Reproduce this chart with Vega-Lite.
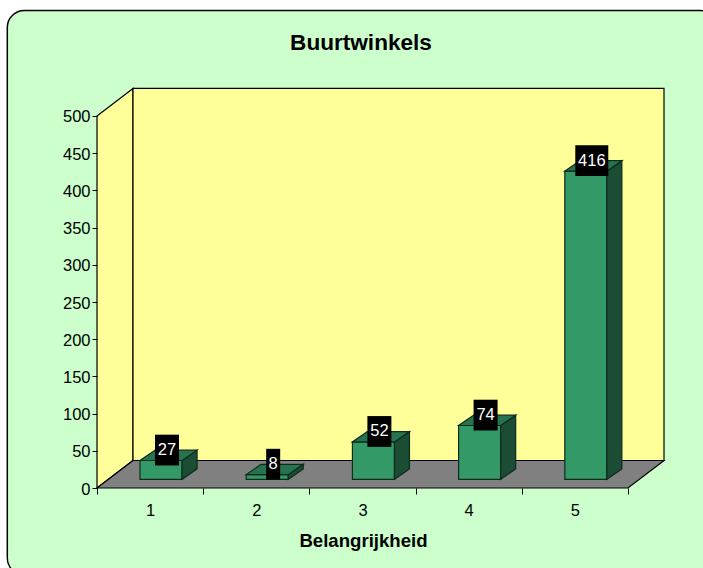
{
"$schema":"https://vega.github.io/schema/vega-lite/v6.json",
"width":703,"height":568,
"autosize":"none",
"padding":0,
"background":"#ffffff",
"view":{"stroke":null},
"title":{"text":"Buurtwinkels","font":"Liberation Sans","fontSize":22.6,"fontWeight":"bold","color":"#000000","anchor":"middle","frame":"group","dx":9.5,"offset":-73,"baseline":"alphabetic"},
"datasets":{
"bars":[{"category":1,"value":27},{"category":2,"value":8},{"category":3,"value":52},{"category":4,"value":74},{"category":5,"value":416}],
"edge":[{"t":0},{"t":1}]
},
"layer":[
{"data":{"values":[{"xa":-0.3446,"xb":6.338,"ya":-116.9,"yb":641.8}]},
"mark":{"type":"rect","fill":"#CCFFCC","stroke":"#000000","strokeWidth":1.5,"cornerRadius":17},
"encoding":{
"x":{"field":"xa","type":"quantitative","title":"Belangrijkheid","scale":{"domain":[-0.4134,6.2062],"nice":false,"zero":false},
"axis":{"zindex":1,"titleFont":"Liberation Sans","titleFontSize":18.6,"titleFontWeight":"bold","titleColor":"#000000","titleX":363,"titlePadding":13,
"offset":-80,"domain":false,"grid":false,"values":[0.5,1,1.5,2,2.5,3,3.5,4,4.5,5,5.5],"labelExpr":"datum.value%1==0?format(datum.value,'d'):''","labelOverlap":false,"labelFlush":false,"labelBound":false,
"labelFont":"Liberation Sans","labelFontSize":16.5,"labelColor":"#000000","labelPadding":8,"tickSize":6,"tickColor":"#000000","tickOpacity":{"condition":{"test":"datum.value%1==0","value":0},"value":1}}},
"x2":{"field":"xb"},
"y":{"field":"ya","type":"quantitative","title":null,"scale":{"domain":[-107.5,655.9],"nice":false,"zero":false},
"axis":{"zindex":1,"orient":"left","offset":-97,"domain":false,"grid":false,"values":[0,50,100,150,200,250,300,350,400,450,500],"labelFont":"Liberation Sans","labelFontSize":16.5,"labelColor":"#000000","labelPadding":2,"labelOffset":1,"tickSize":5,"tickColor":"#000000"}},
"y2":{"field":"yb"}
}},
{"data":{"name":"edge"},
"transform":[{"calculate":"0.5+datum.t*0.339","as":"a"},{"calculate":"datum.t*37","as":"b"},{"calculate":"500+datum.t*37","as":"c"}],
"mark":{"type":"area","fill":"#FFFF99","stroke":"#000000","strokeWidth":1.2},
"encoding":{
"x":{"field":"a","type":"quantitative","title":"Belangrijkheid"},
"y":{"field":"c","type":"quantitative","title":null},
"y2":{"field":"b"}
}},
{"data":{"values":[{"xa":0.839,"xb":5.839,"ya":37,"yb":537}]},
"mark":{"type":"rect","fill":"#FFFF99","stroke":"#000000","strokeWidth":1.2},
"encoding":{
"x":{"field":"xa","type":"quantitative","title":"Belangrijkheid"},
"x2":{"field":"xb"},
"y":{"field":"ya","type":"quantitative","title":null},
"y2":{"field":"yb"}
}},
{"data":{"name":"edge"},
"transform":[{"calculate":"0.5+datum.t*0.339","as":"a"},{"calculate":"5.5+datum.t*0.339","as":"b"},{"calculate":"datum.t*37","as":"c"}],
"mark":{"type":"area","orient":"horizontal","fill":"#808080","stroke":"#000000","strokeWidth":1.2},
"encoding":{
"x":{"field":"a","type":"quantitative","title":"Belangrijkheid"},
"x2":{"field":"b"},
"y":{"field":"c","type":"quantitative","title":null}
}},
{"data":{"name":"bars"},
"transform":[{"calculate":"datum.category+0.103-0.198","as":"a"},{"calculate":"datum.category+0.103+0.198","as":"b"},{"calculate":"11.7","as":"c"},{"calculate":"datum.value+10","as":"d"}],
"mark":{"type":"rect","fill":"#339966","stroke":"#0d2b1c","strokeWidth":1.2},
"encoding":{
"x":{"field":"a","type":"quantitative","title":"Belangrijkheid"},
"x2":{"field":"b"},
"y":{"field":"c","type":"quantitative","title":null},
"y2":{"field":"d"}
}},
{"data":{"name":"bars"},
"transform":[{"calculate":"[0,1]","as":"t"},{"flatten":["t"]},{"calculate":"datum.category+0.301+datum.t*0.1412","as":"a"},{"calculate":"11.7+datum.t*13.9","as":"c"},{"calculate":"datum.value+10+datum.t*13.9","as":"d"}],
"mark":{"type":"area","fill":"#1A4D33","stroke":"#0d2b1c","strokeWidth":1.2},
"encoding":{
"x":{"field":"a","type":"quantitative","title":"Belangrijkheid"},
"y":{"field":"d","type":"quantitative","title":null},
"y2":{"field":"c"},
"detail":{"field":"category"}
}},
{"data":{"name":"bars"},
"transform":[{"calculate":"[0,1]","as":"t"},{"flatten":["t"]},{"calculate":"datum.category-0.095+datum.t*0.1412","as":"a"},{"calculate":"datum.category+0.301+datum.t*0.1412","as":"b"},{"calculate":"datum.value+10+datum.t*13.9","as":"d"}],
"mark":{"type":"area","orient":"horizontal","fill":"#26734D","stroke":"#0d2b1c","strokeWidth":1.2},
"encoding":{
"x":{"field":"a","type":"quantitative","title":"Belangrijkheid"},
"x2":{"field":"b"},
"y":{"field":"d","type":"quantitative","title":null},
"detail":{"field":"category"}
}},
{"data":{"name":"bars"},
"transform":[{"calculate":"(datum.value<10?14:datum.value<100?24:33)/106.2/2","as":"h"},{"calculate":"datum.category+0.159-datum.h","as":"a"},{"calculate":"datum.category+0.159+datum.h","as":"b"},{"calculate":"datum.value+24-20.7","as":"c"},{"calculate":"datum.value+24+20.7","as":"d"}],
"mark":{"type":"rect","fill":"#000000"},
"encoding":{
"x":{"field":"a","type":"quantitative","title":"Belangrijkheid"},
"x2":{"field":"b"},
"y":{"field":"c","type":"quantitative","title":null},
"y2":{"field":"d"}
}},
{"data":{"name":"bars"},
"transform":[{"calculate":"datum.category+0.159","as":"a"},{"calculate":"datum.value+24","as":"d"}],
"mark":{"type":"text","font":"Liberation Sans","fontSize":16.5,"color":"#ffffff","align":"center","baseline":"middle"},
"encoding":{
"x":{"field":"a","type":"quantitative","title":"Belangrijkheid"},
"y":{"field":"d","type":"quantitative","title":null},
"text":{"field":"value","type":"quantitative"}
}}
]
}
